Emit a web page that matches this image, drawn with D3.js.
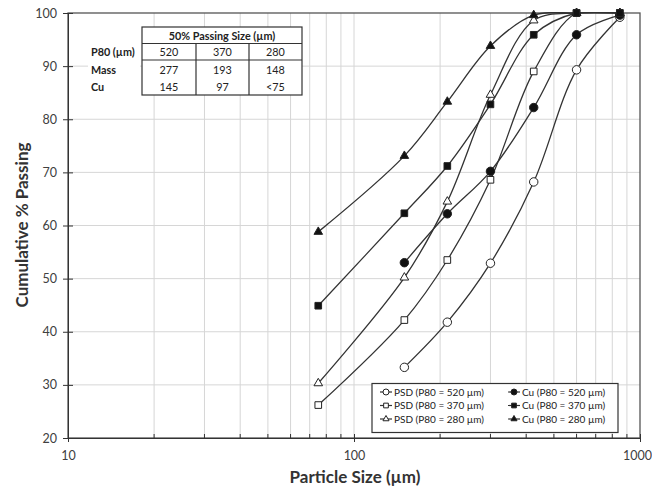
<!DOCTYPE html>
<html>
<head>
<meta charset="utf-8">
<script src="https://cdn.jsdelivr.net/npm/d3@7"></script>
<style>
  body { margin: 0; background: #fff; }
  svg { font-family: Lato, "Open Sans", sans-serif; }
</style>
</head>
<body>
<div class="container"></div>
<script>
// sieve sizes (um) and cumulative % passing
let sizes = [75, 150, 212, 300, 425, 600, 850];
let psd520 = [null, 33.3, 41.8, 52.9, 68.2, 89.3, 99.2];
let cu520 = [null, 53.0, 62.2, 70.2, 82.2, 95.9, 99.6];
let psd370 = [26.2, 42.2, 53.5, 68.6, 89.0, 100, 100];
let cu370 = [44.9, 62.3, 71.2, 82.8, 95.9, 100, 100];
let psd280 = [30.3, 50.2, 64.5, 84.6, 98.6, 100, 100];
let cu280 = [58.8, 73.1, 83.3, 93.8, 99.6, 100, 100];

let seriesNames = ["PSD (P80 = 520 µm)", "PSD (P80 = 370 µm)", "PSD (P80 = 280 µm)",
  "Cu (P80 = 520 µm)", "Cu (P80 = 370 µm)", "Cu (P80 = 280 µm)"];

// inset table
let tableTitle = "50% Passing Size (µm)";
let rowLabels = ["P80 (µm)", "Mass", "Cu"];
let p80Row = ["520", "370", "280"];
let massRow = ["277", "193", "148"];
let cuRow = ["145", "97", "<75"];

let yTicks = [20, 30, 40, 50, 60, 70, 80, 90, 100];
let xTicks = [10, 100, 1000];

let series = [
  { name: seriesNames[0], values: psd520, shape: "circle", filled: false },
  { name: seriesNames[1], values: psd370, shape: "square", filled: false },
  { name: seriesNames[2], values: psd280, shape: "triangle", filled: false },
  { name: seriesNames[3], values: cu520, shape: "circle", filled: true },
  { name: seriesNames[4], values: cu370, shape: "square", filled: true },
  { name: seriesNames[5], values: cu280, shape: "triangle", filled: true },
];

let W = 652, H = 491;
let m = { left: 68, right: 640, top: 13, bottom: 438 };

var svg = d3.select(".container").append("svg").attr("width", W).attr("height", H);

let x = d3.scaleLog().domain([10, 1000]).range([m.left, m.right]);
let y = d3.scaleLinear().domain([20, 100]).range([m.bottom, m.top]);

let minors = [];
for (let d = 10; d < 1000; d *= 10) {
  for (let k = 2; k <= 9; k++) minors.push(d * k);
}

// grid
let grid = svg.append("g").attr("stroke", "#d6d6d6").attr("stroke-width", 1);
grid.selectAll(".gx").data(minors.concat([100])).enter().append("line")
  .attr("x1", (d) => x(d)).attr("x2", (d) => x(d))
  .attr("y1", m.top).attr("y2", m.bottom);
grid.selectAll(".gy").data(yTicks.slice(1, -1)).enter().append("line")
  .attr("x1", m.left).attr("x2", m.right)
  .attr("y1", (d) => y(d)).attr("y2", (d) => y(d));

// frame
svg.append("rect")
  .attr("x", m.left).attr("y", m.top)
  .attr("width", m.right - m.left).attr("height", m.bottom - m.top)
  .attr("fill", "none").attr("stroke", "#555").attr("stroke-width", 1.3);

// axes
let yAxis = d3.axisLeft(y).tickValues(yTicks).tickSize(5).tickPadding(6);
svg.append("g").attr("transform", `translate(${m.left},0)`).call(yAxis)
  .call((g) => g.select(".domain").attr("stroke", "#333"))
  .call((g) => g.selectAll(".tick line").attr("stroke", "#333").attr("x2", 5).attr("x1", -5))
  .call((g) => g.selectAll("text").attr("font-size", 12.5).attr("fill", "#404040").attr("font-family", "Lato"));

let xAxis = d3.axisBottom(x).tickValues(xTicks).tickFormat(d3.format("d")).tickSize(4).tickPadding(9);
svg.append("g").attr("transform", `translate(0,${m.bottom})`).call(xAxis)
  .call((g) => g.select(".domain").attr("stroke", "#333"))
  .call((g) => g.selectAll(".tick line").attr("stroke", "#333").attr("y1", -4))
  .call((g) => g.selectAll("text").attr("font-size", 12.5).attr("fill", "#404040").attr("font-family", "Lato")
    .attr("dx", (d) => (d == 1000 ? -3 : 0)));

svg.append("g").selectAll("line").data(minors).enter().append("line")
  .attr("x1", (d) => x(d)).attr("x2", (d) => x(d))
  .attr("y1", m.bottom).attr("y2", m.bottom - 4)
  .attr("stroke", "#333");

// axis titles
svg.append("text")
  .attr("x", 355).attr("y", 483)
  .attr("text-anchor", "middle").attr("font-size", 17).attr("font-weight", "bold")
  .attr("fill", "#333").text("Particle Size (µm)");
svg.append("text")
  .attr("transform", `translate(28,225) rotate(-90)`)
  .attr("text-anchor", "middle").attr("font-size", 17).attr("font-weight", "bold")
  .attr("fill", "#333").text("Cumulative % Passing");

// clip for the smoothed lines
svg.append("clipPath").attr("id", "plot").append("rect")
  .attr("x", m.left).attr("y", m.top - 1)
  .attr("width", m.right - m.left).attr("height", m.bottom - m.top + 1);

let line = d3.line()
  .defined((d) => d.v != null)
  .x((d) => x(d.s)).y((d) => y(d.v))
  .curve(d3.curveCatmullRom.alpha(0.5));

let pts = (s) => sizes.map((sz, i) => ({ s: sz, v: s.values[i] })).filter((d) => d.v != null);

let shapeOf = { circle: d3.symbolCircle, square: d3.symbolSquare, triangle: d3.symbolTriangle };
let sizeOf = { circle: 56, square: 44, triangle: 32 };

let drawMarker = (g, s, cx, cy, scale) => {
  g.append("path")
    .attr("d", d3.symbol().type(shapeOf[s.shape]).size(sizeOf[s.shape] * scale)())
    .attr("transform", `translate(${cx},${cy})`)
    .attr("fill", s.filled ? "#111" : "#fff")
    .attr("stroke", "#222").attr("stroke-width", 1);
};

let lines = svg.append("g").attr("clip-path", "url(#plot)");
series.forEach((s) => {
  lines.append("path")
    .attr("d", line(pts(s)))
    .attr("fill", "none").attr("stroke", "#333").attr("stroke-width", 1.3);
});

// triangles first, squares last so the top-edge squares show as in the original
let drawOrder = [2, 5, 0, 3, 1, 4];
let marks = svg.append("g");
drawOrder.forEach((k) => {
  let s = series[k];
  pts(s).forEach((d) => drawMarker(marks, s, x(d.s), y(d.v), 1));
});

// inset table
let tb = svg.append("g").attr("font-size", 10.8).attr("fill", "#222");
let tx = [142, 196, 249, 302];
let ty = [27, 43.5, 60, 95];
tb.append("rect").attr("x", tx[0]).attr("y", ty[0])
  .attr("width", tx[3] - tx[0]).attr("height", ty[3] - ty[0])
  .attr("fill", "#fff").attr("stroke", "#333").attr("stroke-width", 1.2);
tb.append("rect").attr("x", 88).attr("y", 45)
  .attr("width", 52).attr("height", 48).attr("fill", "#fff");
[ty[1], ty[2]].forEach((yy) => {
  tb.append("line").attr("x1", tx[0]).attr("x2", tx[3]).attr("y1", yy).attr("y2", yy)
    .attr("stroke", "#333").attr("stroke-width", 1.2);
});
[tx[1], tx[2]].forEach((xx) => {
  tb.append("line").attr("x1", xx).attr("x2", xx).attr("y1", ty[1]).attr("y2", ty[3])
    .attr("stroke", "#333").attr("stroke-width", 1.2);
});
tb.append("text").attr("x", (tx[0] + tx[3]) / 2).attr("y", 39.5)
  .attr("text-anchor", "middle").attr("font-weight", "bold").text(tableTitle);
let rowY = [56, 73.5, 90.5];
rowLabels.forEach((lab, i) => {
  tb.append("text").attr("x", 91).attr("y", rowY[i]).attr("font-weight", "bold").text(lab);
});
[p80Row, massRow, cuRow].forEach((row, i) => {
  row.forEach((val, j) => {
    tb.append("text").attr("x", (tx[j] + tx[j + 1]) / 2).attr("y", rowY[i])
      .attr("text-anchor", "middle").text(val);
  });
});

// legend
let lg = svg.append("g").attr("font-size", 10).attr("fill", "#222");
lg.append("rect").attr("x", 372).attr("y", 383.5).attr("width", 246).attr("height", 49)
  .attr("fill", "#fff").attr("stroke", "#333").attr("stroke-width", 1.2);
series.forEach((s, i) => {
  let col = Math.floor(i / 3), row = i % 3;
  let lx = col == 0 ? 380 : 508;
  let ly = 392 + row * 13.5;
  lg.append("line").attr("x1", lx).attr("x2", lx + 12).attr("y1", ly).attr("y2", ly)
    .attr("stroke", "#333").attr("stroke-width", 1.2);
  drawMarker(lg, s, lx + 6, ly, 0.5);
  lg.append("text").attr("x", lx + 14).attr("y", ly + 3.5).text(s.name);
});
</script>
</body>
</html>
